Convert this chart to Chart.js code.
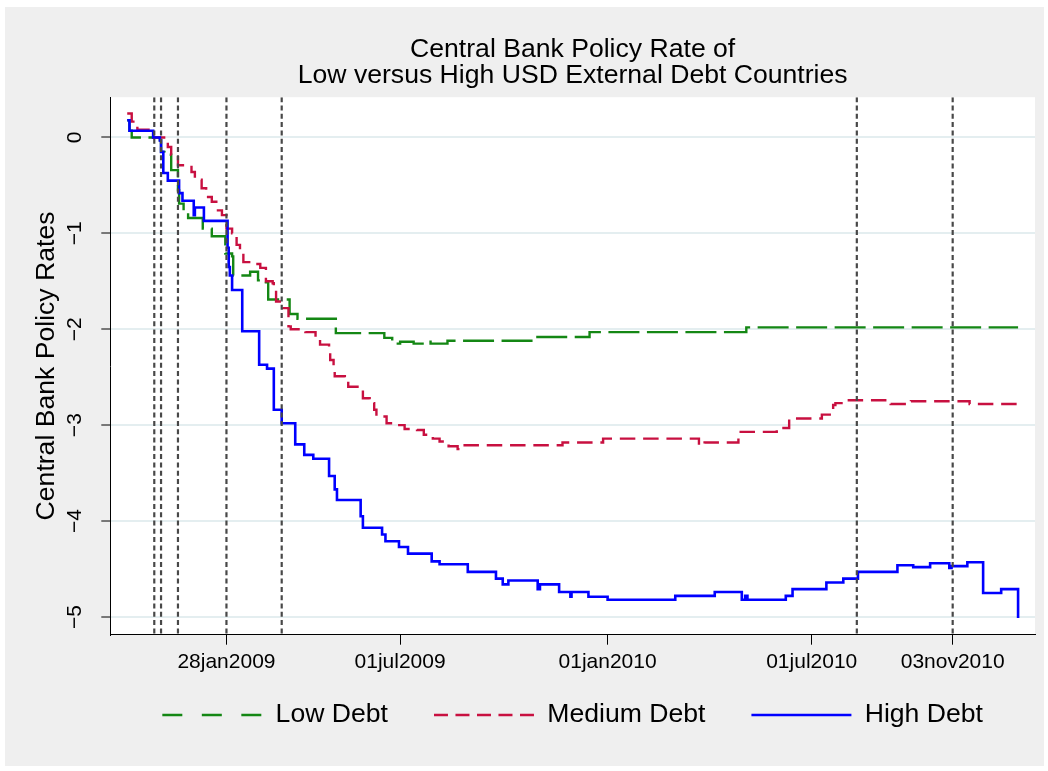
<!DOCTYPE html>
<html>
<head>
<meta charset="utf-8">
<title>Central Bank Policy Rate</title>
<script src="https://cdn.jsdelivr.net/npm/chart.js@4.4.1/dist/chart.umd.min.js"></script>
<style>
  html, body { margin: 0; padding: 0; background: #ffffff; }
  canvas { display: block; }
</style>
</head>
<body>
<canvas id="chart" width="1048" height="771"></canvas>
<script>
// ---- Policy rate paths (change dates and levels, relative to the starting rate) ----
const lowDebtDates = [
  '2008-11-01','2008-11-03','2008-11-05','2008-11-30','2008-12-01','2008-12-04','2008-12-10',
  '2008-12-16','2008-12-17','2008-12-21','2008-12-25','2009-01-07','2009-01-15','2009-01-27',
  '2009-02-02','2009-02-03','2009-02-18','2009-02-25','2009-03-04','2009-03-06','2009-03-25',
  '2009-04-01','2009-05-05','2009-06-17','2009-06-24','2009-07-01','2009-07-13','2009-07-26',
  '2009-07-28','2009-08-12','2009-10-27','2009-12-16','2010-05-04','2010-12-31'
];
const lowDebtRates = [
  0.18, 0.07, 0.00, -0.03, -0.15, -0.18, -0.34,
  -0.55, -0.69, -0.77, -0.84, -0.95, -1.03, -1.21,
  -1.24, -1.44, -1.40, -1.49, -1.51, -1.69, -1.84,
  -1.89, -2.04, -2.09, -2.15, -2.13, -2.15, -2.13,
  -2.15, -2.12, -2.08, -2.03, -1.98, -1.98
];

const mediumDebtDates = [
  '2008-11-01','2008-11-05','2008-11-10','2008-11-24','2008-12-07','2008-12-10','2008-12-16',
  '2008-12-28','2008-12-31','2009-01-06','2009-01-10','2009-01-15','2009-01-19','2009-01-24',
  '2009-01-28','2009-02-02','2009-02-06','2009-02-09','2009-02-12','2009-02-20','2009-02-27',
  '2009-03-04','2009-03-10','2009-03-11','2009-03-13','2009-03-19','2009-03-24','2009-03-26',
  '2009-04-08','2009-04-17','2009-04-21','2009-04-29','2009-04-30','2009-05-03','2009-05-04',
  '2009-05-13','2009-05-16','2009-05-28','2009-05-29','2009-06-04','2009-06-08','2009-06-10',
  '2009-06-19','2009-06-28','2009-07-05','2009-07-16','2009-07-22','2009-07-30','2009-08-05',
  '2009-08-13','2009-08-21','2009-08-23','2009-11-22','2009-12-28','2010-03-23','2010-03-28',
  '2010-04-27','2010-05-31','2010-06-02','2010-06-11','2010-07-10','2010-07-20','2010-07-22',
  '2010-07-30','2010-09-09','2010-09-27','2010-11-18','2010-12-31'
];
const mediumDebtRates = [
  0.25, 0.165, 0.08, 0.00, -0.10, -0.18, -0.29,
  -0.36, -0.44, -0.53, -0.62, -0.67, -0.76, -0.81,
  -0.95, -1.00, -1.12, -1.21, -1.30, -1.32, -1.36,
  -1.50, -1.52, -1.59, -1.71, -1.78, -1.97, -2.00,
  -2.03, -2.08, -2.16, -2.20, -2.32, -2.41, -2.49,
  -2.51, -2.60, -2.62, -2.72, -2.77, -2.84, -2.91,
  -2.98, -3.00, -3.04, -3.05, -3.10, -3.14, -3.17,
  -3.22, -3.25, -3.21, -3.18, -3.14, -3.21, -3.18,
  -3.07, -3.05, -3.03, -2.93, -2.89, -2.79, -2.77,
  -2.74, -2.78, -2.75, -2.78, -2.78
];

const highDebtDates = [
  '2008-11-01','2008-11-03','2008-11-24','2008-11-30','2008-12-01','2008-12-03','2008-12-07',
  '2008-12-17','2008-12-20','2008-12-30','2008-12-31','2009-01-08','2009-01-29','2009-01-30',
  '2009-01-31','2009-02-02','2009-02-11','2009-02-26','2009-03-05','2009-03-11','2009-03-18',
  '2009-03-30','2009-04-07','2009-04-15','2009-04-29','2009-05-04','2009-05-06','2009-05-27',
  '2009-05-29','2009-06-15','2009-06-18','2009-06-30','2009-07-08','2009-07-29','2009-08-05',
  '2009-08-30','2009-09-24','2009-09-30','2009-10-05','2009-10-31','2009-11-02','2009-11-19',
  '2009-11-29','2009-11-30','2009-12-15','2010-01-01','2010-03-02','2010-04-06','2010-04-30',
  '2010-05-03','2010-05-05','2010-06-08','2010-06-14','2010-07-14','2010-07-29','2010-08-11',
  '2010-09-15','2010-09-29','2010-10-14','2010-10-31','2010-11-02','2010-11-16','2010-11-30',
  '2010-12-16','2010-12-31'
];
const highDebtRates = [
  0.18, 0.07, 0.00, -0.03, -0.15, -0.37, -0.45,
  -0.58, -0.66, -0.81, -0.73, -0.87, -1.15, -1.35,
  -1.44, -1.59, -2.02, -2.37, -2.41, -2.84, -2.98,
  -3.20, -3.31, -3.35, -3.53, -3.67, -3.78, -3.95,
  -4.07, -4.14, -4.21, -4.27, -4.34, -4.42, -4.45,
  -4.53, -4.60, -4.66, -4.62, -4.71, -4.66, -4.74,
  -4.79, -4.74, -4.79, -4.82, -4.78, -4.74, -4.82,
  -4.78, -4.82, -4.78, -4.71, -4.64, -4.60, -4.53,
  -4.46, -4.48, -4.44, -4.49, -4.47, -4.43, -4.75,
  -4.71, -5.01
];

// Announcement dates marked with vertical reference lines
const eventDates = ['2008-11-25','2008-12-01','2008-12-16','2009-01-28','2009-03-18','2010-08-10','2010-11-03'];

// Axis ticks and ranges
const xTickDates  = ['2009-01-28','2009-07-01','2010-01-01','2010-07-01','2010-11-03'];
const xTickLabels = ['28jan2009','01jul2009','01jan2010','01jul2010','03nov2010'];
const xRange      = ['2008-10-17','2011-01-15'];
const yTickValues = [-5, -4, -3, -2, -1, 0];
const yTickLabels = ['\u22125','\u22124','\u22123','\u22122','\u22121','0'];
const yRange      = [-5.185, 0.42];

// ---- helpers ----
const dayNumber = s => {
  const [y, m, d] = s.split('-').map(Number);
  return Date.UTC(y, m - 1, d) / 86400000;
};
const toPoints = (dates, values) => dates.map((d, i) => ({ x: dayNumber(d), y: values[i] }));
const eventPoints = eventDates.flatMap(d => [
  { x: dayNumber(d), y: yRange[1] },
  { x: dayNumber(d), y: yRange[0] },
  { x: dayNumber(d), y: null }
]);

const FONT = '"Liberation Sans", Arial, Helvetica, sans-serif';
Chart.defaults.font.family = FONT;
Chart.defaults.color = '#000000';

// Gray graph region and white plot region behind everything
const backgroundPlugin = {
  id: 'panels',
  beforeDraw(chart) {
    const { ctx, chartArea } = chart;
    ctx.save();
    ctx.fillStyle = 'rgb(239,239,239)';
    ctx.fillRect(5, 7, 1039, 759);
    ctx.fillStyle = '#ffffff';
    ctx.fillRect(chartArea.left, chartArea.top, chartArea.right - chartArea.left, chartArea.bottom - chartArea.top);
    ctx.restore();
  }
};

// The legend keys sit a little closer to the axis labels than the
// legend's own padding would place them.
const LEGEND_LIFT = 19;
const legendLiftPlugin = {
  id: 'legendLift',
  afterLayout(chart) {
    if (chart.legend) {
      chart.legend.top -= LEGEND_LIFT;
      chart.legend.bottom -= LEGEND_LIFT;
    }
  }
};

new Chart(document.getElementById('chart'), {
  type: 'line',
  data: {
    datasets: [
      {
        label: 'events',
        data: eventPoints,
        borderColor: 'rgb(72,72,72)',
        borderWidth: 2.2,
        borderDash: [5, 3.3],
        pointRadius: 0,
        spanGaps: false,
        order: 0
      },
      {
        label: 'High Debt',
        data: toPoints(highDebtDates, highDebtRates),
        borderColor: 'rgb(0,0,255)',
        backgroundColor: 'rgb(0,0,255)',
        borderWidth: 2.6,
        stepped: 'before',
        pointRadius: 0,
        legendDash: [],
        order: 1
      },
      {
        label: 'Medium Debt',
        data: toPoints(mediumDebtDates, mediumDebtRates),
        borderColor: 'rgb(200,16,64)',
        backgroundColor: 'rgb(200,16,64)',
        borderWidth: 2.4,
        borderDash: [15.5, 7.8],
        stepped: 'before',
        pointRadius: 0,
        legendDash: [14, 7.5],
        order: 2
      },
      {
        label: 'Low Debt',
        data: toPoints(lowDebtDates, lowDebtRates),
        borderColor: 'rgb(20,135,20)',
        backgroundColor: 'rgb(20,135,20)',
        borderWidth: 2.4,
        borderDash: [31, 7.5],
        stepped: 'before',
        pointRadius: 0,
        legendDash: [20, 19.5],
        order: 3
      }
    ]
  },
  options: {
    responsive: false,
    animation: false,
    devicePixelRatio: 1,
    layout: { padding: { left: 5, right: 13, top: 0, bottom: 13.7 } },
    scales: {
      x: {
        type: 'linear',
        position: 'bottom',
        min: dayNumber(xRange[0]),
        max: dayNumber(xRange[1]),
        afterBuildTicks: axis => { axis.ticks = xTickDates.map(d => ({ value: dayNumber(d) })); },
        afterFit: axis => { axis.height = 40; },
        grid: { drawOnChartArea: false, drawTicks: true, tickLength: 10, tickColor: '#000', tickWidth: 1 },
        border: { display: true, color: '#000', width: 1 },
        ticks: {
          autoSkip: false,
          maxRotation: 0,
          minRotation: 0,
          padding: 5,
          font: { size: 21 },
          color: '#000',
          callback: (value, index) => xTickLabels[index]
        }
      },
      y: {
        type: 'linear',
        position: 'left',
        min: yRange[0],
        max: yRange[1],
        afterBuildTicks: axis => { axis.ticks = yTickValues.map(v => ({ value: v })); },
        afterFit: axis => { axis.width = 105.3; },
        grid: { drawOnChartArea: true, color: 'rgb(228,238,240)', lineWidth: 2, drawTicks: true, tickLength: 9, tickColor: '#000', tickWidth: 1 },
        border: { display: true, color: '#000', width: 1 },
        ticks: {
          autoSkip: false,
          minRotation: 90,
          maxRotation: 90,
          crossAlign: 'center',
          padding: 14,
          font: { size: 21 },
          color: '#000',
          callback: (value, index) => yTickLabels[index]
        },
        title: {
          display: true,
          text: 'Central Bank Policy Rates',
          font: { size: 26.6, lineHeight: 1 },
          color: '#000',
          padding: { top: 28, bottom: 0 }
        }
      }
    },
    plugins: {
      title: {
        display: true,
        fullSize: false,
        text: ['Central Bank Policy Rate of', 'Low versus High USD External Debt Countries'],
        font: { size: 26.6, weight: 'normal', lineHeight: 1 },
        color: '#000',
        padding: { top: 36, bottom: 8 }
      },
      legend: {
        display: true,
        position: 'bottom',
        fullSize: false,
        labels: {
          usePointStyle: true,
          pointStyle: 'line',
          pointStyleWidth: 100,
          boxHeight: 26,
          padding: 46,
          color: '#000',
          font: { size: 26.6 },
          filter: item => item.text !== 'events',
          sort: (a, b) => b.datasetIndex - a.datasetIndex,
          generateLabels: chart => {
            const items = Chart.defaults.plugins.legend.labels.generateLabels(chart);
            items.forEach(item => {
              const ds = chart.data.datasets[item.datasetIndex];
              if (ds.legendDash) item.lineDash = ds.legendDash;
              item.pointStyle = 'line';
            });
            return items;
          }
        }
      },
      tooltip: { enabled: false }
    }
  },
  plugins: [backgroundPlugin, legendLiftPlugin]
});
</script>
</body>
</html>
